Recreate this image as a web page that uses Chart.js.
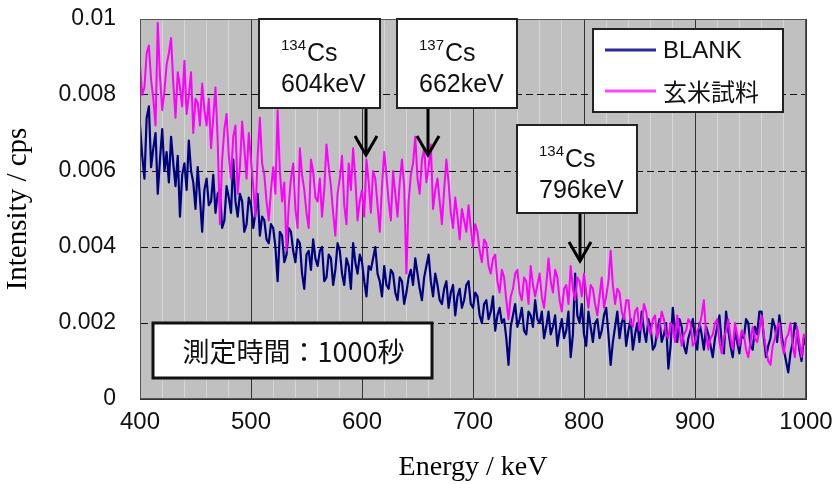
<!DOCTYPE html>
<html>
<head>
<meta charset="utf-8">
<script src="https://cdn.jsdelivr.net/npm/chart.js@4.4.0/dist/chart.umd.min.js"></script>
<style>
  html, body { margin: 0; padding: 0; background: #fff; }
  #wrap { width: 836px; height: 484px; }
</style>
</head>
<body>
<div id="wrap"><canvas id="chart" width="836" height="484"></canvas></div>
<script>
// Energy channels (keV), 2 keV per channel
const energies = [
  400,402,404,406,408,410,412,414,416,418,420,422,424,426,428,430,432,434,436,438,440,442,444,446,448,450,452,454,456,458,
  460,462,464,466,468,470,472,474,476,478,480,482,484,486,488,490,492,494,496,498,500,502,504,506,508,510,512,514,516,518,
  520,522,524,526,528,530,532,534,536,538,540,542,544,546,548,550,552,554,556,558,560,562,564,566,568,570,572,574,576,578,
  580,582,584,586,588,590,592,594,596,598,600,602,604,606,608,610,612,614,616,618,620,622,624,626,628,630,632,634,636,638,
  640,642,644,646,648,650,652,654,656,658,660,662,664,666,668,670,672,674,676,678,680,682,684,686,688,690,692,694,696,698,
  700,702,704,706,708,710,712,714,716,718,720,722,724,726,728,730,732,734,736,738,740,742,744,746,748,750,752,754,756,758,
  760,762,764,766,768,770,772,774,776,778,780,782,784,786,788,790,792,794,796,798,800,802,804,806,808,810,812,814,816,818,
  820,822,824,826,828,830,832,834,836,838,840,842,844,846,848,850,852,854,856,858,860,862,864,866,868,870,872,874,876,878,
  880,882,884,886,888,890,892,894,896,898,900,902,904,906,908,910,912,914,916,918,920,922,924,926,928,930,932,934,936,938,
  940,942,944,946,948,950,952,954,956,958,960,962,964,966,968,970,972,974,976,978,980,982,984,986,988,990,992,994,996,998,
  1000
];

// BLANK (cps)
const blank = [
  0.0072,0.0064,0.0058,0.0074,0.0077,0.0061,0.0066,0.0070,0.0054,0.0063,0.0071,0.0060,0.0065,0.0057,0.0069,0.0062,0.0056,0.0064,0.0048,0.0059,0.0062,0.0055,0.0068,0.0060,0.0057,0.0050,0.0061,0.0053,0.0044,0.0055,
  0.0058,0.0051,0.0052,0.0059,0.0049,0.0054,0.0055,0.0045,0.0047,0.0056,0.0053,0.0049,0.0063,0.0052,0.0048,0.0054,0.0052,0.0044,0.0046,0.0053,0.0051,0.0045,0.0049,0.0054,0.0043,0.0048,0.0047,0.0042,0.0041,0.0046,
  0.0045,0.0040,0.0031,0.0044,0.0043,0.0036,0.0038,0.0045,0.0044,0.0039,0.0036,0.0042,0.0041,0.0033,0.0029,0.0038,0.0039,0.0034,0.0042,0.0037,0.0035,0.0039,0.0040,0.0031,0.0032,0.0038,0.0037,0.0030,0.0034,0.0041,
  0.0039,0.0033,0.0030,0.0037,0.0035,0.0029,0.0041,0.0036,0.0033,0.0038,0.0036,0.0031,0.0027,0.0035,0.0034,0.0037,0.0040,0.0033,0.0031,0.0027,0.0035,0.0030,0.0029,0.0034,0.0033,0.0028,0.0026,0.0032,0.0031,0.0025,
  0.0028,0.0032,0.0034,0.0030,0.0037,0.0033,0.0029,0.0026,0.0032,0.0035,0.0038,0.0031,0.0027,0.0033,0.0030,0.0026,0.0025,0.0029,0.0031,0.0024,0.0028,0.0030,0.0022,0.0027,0.0029,0.0024,0.0026,0.0030,0.0031,0.0025,
  0.0024,0.0028,0.0027,0.0022,0.0020,0.0025,0.0026,0.0021,0.0023,0.0027,0.0018,0.0022,0.0024,0.0020,0.0021,0.0016,0.0009,0.0019,0.0022,0.0025,0.0019,0.0021,0.0024,0.0018,0.0017,0.0023,0.0022,0.0019,0.0026,0.0021,
  0.0020,0.0023,0.0016,0.0019,0.0023,0.0017,0.0019,0.0022,0.0014,0.0018,0.0021,0.0016,0.0018,0.0023,0.0011,0.0017,0.0033,0.0022,0.0020,0.0025,0.0017,0.0014,0.0023,0.0019,0.0015,0.0020,0.0021,0.0016,0.0018,0.0022,
  0.0024,0.0017,0.0009,0.0015,0.0019,0.0023,0.0016,0.0020,0.0022,0.0014,0.0018,0.0021,0.0013,0.0017,0.0020,0.0015,0.0023,0.0018,0.0015,0.0021,0.0019,0.0013,0.0014,0.0018,0.0021,0.0015,0.0017,0.0020,0.0008,0.0014,
  0.0024,0.0018,0.0015,0.0021,0.0019,0.0014,0.0012,0.0016,0.0018,0.0021,0.0016,0.0013,0.0020,0.0017,0.0013,0.0019,0.0017,0.0014,0.0011,0.0016,0.0019,0.0022,0.0015,0.0012,0.0023,0.0018,0.0014,0.0011,0.0018,0.0015,
  0.0012,0.0017,0.0016,0.0021,0.0020,0.0014,0.0013,0.0019,0.0017,0.0023,0.0023,0.0016,0.0011,0.0014,0.0016,0.0021,0.0019,0.0015,0.0022,0.0017,0.0013,0.0010,0.0007,0.0012,0.0015,0.0020,0.0018,0.0013,0.0010,0.0016,
  0.0014
];

// 玄米試料 (cps)
const sample = [
  0.0088,0.0080,0.0082,0.0091,0.0093,0.0084,0.0079,0.0072,0.0099,0.0085,0.0076,0.0081,0.0088,0.0091,0.0095,0.0083,0.0074,0.0086,0.0082,0.0077,0.0089,0.0075,0.0080,0.0086,0.0070,0.0079,0.0078,0.0072,0.0083,0.0076,
  0.0072,0.0079,0.0066,0.0074,0.0082,0.0068,0.0046,0.0063,0.0071,0.0075,0.0064,0.0058,0.0069,0.0072,0.0054,0.0061,0.0073,0.0066,0.0058,0.0070,0.0063,0.0056,0.0048,0.0064,0.0074,0.0062,0.0059,0.0052,0.0047,0.0055,
  0.0061,0.0054,0.0076,0.0060,0.0052,0.0057,0.0039,0.0051,0.0058,0.0062,0.0050,0.0045,0.0066,0.0059,0.0055,0.0049,0.0045,0.0063,0.0060,0.0053,0.0052,0.0058,0.0048,0.0055,0.0067,0.0061,0.0056,0.0049,0.0043,0.0054,
  0.0058,0.0064,0.0051,0.0046,0.0062,0.0055,0.0066,0.0058,0.0047,0.0052,0.0055,0.0048,0.0063,0.0057,0.0049,0.0060,0.0058,0.0051,0.0044,0.0056,0.0065,0.0059,0.0052,0.0047,0.0060,0.0054,0.0048,0.0057,0.0063,0.0056,
  0.0033,0.0052,0.0059,0.0062,0.0069,0.0058,0.0054,0.0063,0.0066,0.0057,0.0061,0.0067,0.0050,0.0055,0.0058,0.0052,0.0046,0.0055,0.0063,0.0057,0.0049,0.0045,0.0053,0.0048,0.0042,0.0050,0.0047,0.0044,0.0051,0.0045,
  0.0040,0.0046,0.0044,0.0039,0.0036,0.0042,0.0041,0.0035,0.0033,0.0037,0.0038,0.0031,0.0028,0.0034,0.0032,0.0026,0.0021,0.0027,0.0029,0.0033,0.0034,0.0028,0.0026,0.0032,0.0031,0.0025,0.0035,0.0030,0.0027,0.0030,
  0.0033,0.0027,0.0024,0.0030,0.0037,0.0031,0.0028,0.0034,0.0032,0.0026,0.0023,0.0029,0.0030,0.0025,0.0035,0.0029,0.0026,0.0032,0.0031,0.0027,0.0033,0.0028,0.0024,0.0030,0.0029,0.0025,0.0022,0.0027,0.0032,0.0024,
  0.0027,0.0031,0.0039,0.0030,0.0025,0.0029,0.0028,0.0023,0.0021,0.0026,0.0026,0.0020,0.0019,0.0023,0.0024,0.0018,0.0020,0.0025,0.0023,0.0019,0.0017,0.0021,0.0022,0.0016,0.0019,0.0023,0.0021,0.0017,0.0016,0.0020,
  0.0019,0.0015,0.0022,0.0018,0.0014,0.0017,0.0018,0.0021,0.0020,0.0014,0.0015,0.0018,0.0019,0.0022,0.0026,0.0017,0.0013,0.0016,0.0017,0.0020,0.0021,0.0015,0.0012,0.0016,0.0018,0.0021,0.0016,0.0013,0.0020,0.0017,
  0.0014,0.0018,0.0017,0.0013,0.0011,0.0015,0.0019,0.0016,0.0015,0.0018,0.0022,0.0017,0.0013,0.0010,0.0009,0.0014,0.0016,0.0019,0.0020,0.0015,0.0012,0.0016,0.0017,0.0020,0.0014,0.0011,0.0019,0.0015,0.0011,0.0017,
  0.0016
];

const seriesNames = ["BLANK", "玄米試料"];
const xTicks = [400, 500, 600, 700, 800, 900, 1000];
const yTicks = [0, 0.002, 0.004, 0.006, 0.008, 0.01];

// peak markers
const peakEnergies = [604, 662, 796];
const peakMass = ["134", "137", "134"];
const measureText = "測定時間：1000秒";

// pixel layout of the callout boxes (not data)
const calloutBoxes = [
  { x: 259, y: 19, w: 121, h: 89, tip: 155 },
  { x: 397, y: 19, w: 120, h: 89, tip: 155 },
  { x: 517, y: 125, w: 120, h: 88, tip: 261 }
];

const sansFont = '"Liberation Sans", Arial, sans-serif';
const serifFont = '"Liberation Serif", "Times New Roman", serif';
const cjkFont = '"Noto Sans CJK JP", sans-serif';

const decorations = {
  id: "decorations",
  beforeDraw(chart) {
    const { ctx, chartArea: a } = chart;
    ctx.save();
    ctx.fillStyle = "#ffffff";
    ctx.fillRect(0, 0, chart.width, chart.height);
    ctx.fillStyle = "#c0c0c0";
    ctx.fillRect(a.left, a.top, a.right - a.left, a.bottom - a.top);
    ctx.restore();
  },
  afterDraw(chart) {
    const { ctx, chartArea: a } = chart;
    const xs = chart.scales.x;
    ctx.save();

    // plot frame
    ctx.strokeStyle = "#555";
    ctx.lineWidth = 1;
    ctx.strokeRect(a.left + 0.5, a.top + 0.5, a.right - a.left - 1, a.bottom - a.top - 1);

    // callouts with arrows
    peakEnergies.forEach((e, i) => {
      const b = calloutBoxes[i];
      const px = Math.round(xs.getPixelForValue(e)) - (i === 1 ? 3 : 0);
      ctx.strokeStyle = "#000";
      ctx.lineWidth = 3;
      ctx.beginPath();
      ctx.moveTo(px, b.y + b.h);
      ctx.lineTo(px, b.tip);
      ctx.stroke();
      ctx.beginPath();
      ctx.moveTo(px - 11, b.tip - 19);
      ctx.lineTo(px, b.tip);
      ctx.lineTo(px + 11, b.tip - 19);
      ctx.stroke();

      ctx.fillStyle = "#fff";
      ctx.fillRect(b.x, b.y, b.w, b.h);
      ctx.lineWidth = 2;
      ctx.strokeStyle = "#222";
      ctx.strokeRect(b.x, b.y, b.w, b.h);

      ctx.fillStyle = "#111";
      ctx.textBaseline = "alphabetic";
      ctx.textAlign = "left";
      const tx = b.x + 22;
      ctx.font = "15px " + sansFont;
      ctx.fillText(peakMass[i], tx, b.y + 31);
      const mw = ctx.measureText(peakMass[i]).width;
      ctx.font = "25px " + sansFont;
      ctx.fillText("Cs", tx + mw + 1, b.y + 42);
      ctx.fillText(e + "keV", tx, b.y + 73);
    });

    // legend
    const lx = 593, ly = 29, lw = 190, lh = 83;
    ctx.fillStyle = "#fff";
    ctx.fillRect(lx, ly, lw, lh);
    ctx.strokeStyle = "#222";
    ctx.lineWidth = 2;
    ctx.strokeRect(lx, ly, lw, lh);
    const colors = ["#2b2b9a", "#ff44ff"];
    const rows = [50, 91];
    seriesNames.forEach((name, i) => {
      ctx.strokeStyle = colors[i];
      ctx.lineWidth = 3;
      ctx.beginPath();
      ctx.moveTo(605, rows[i]);
      ctx.lineTo(656, rows[i]);
      ctx.stroke();
      ctx.fillStyle = "#111";
      ctx.textAlign = "left";
      ctx.textBaseline = "middle";
      ctx.font = (i === 0 ? "24px " + sansFont : "24px " + cjkFont);
      ctx.fillText(name, 663, rows[i] + 1);
    });

    // measurement time box
    const mx = 153, my = 323, mw2 = 279, mh = 55;
    ctx.fillStyle = "#fff";
    ctx.fillRect(mx, my, mw2, mh);
    ctx.strokeStyle = "#111";
    ctx.lineWidth = 3;
    ctx.strokeRect(mx, my, mw2, mh);
    ctx.fillStyle = "#111";
    ctx.textAlign = "center";
    ctx.textBaseline = "middle";
    ctx.font = "27px " + cjkFont;
    ctx.fillText(measureText, mx + mw2 / 2 + 1, my + mh / 2 + 1);

    ctx.restore();
  }
};

const ctx = document.getElementById("chart").getContext("2d");
new Chart(ctx, {
  type: "line",
  data: {
    datasets: [
      {
        label: seriesNames[1],
        data: sample.map((v, i) => ({ x: energies[i], y: v })),
        borderColor: "#ff00ff",
        borderWidth: 2,
        pointRadius: 0,
        tension: 0,
        borderJoinStyle: "round"
      },
      {
        label: seriesNames[0],
        data: blank.map((v, i) => ({ x: energies[i], y: v })),
        borderColor: "#000080",
        borderWidth: 2.2,
        pointRadius: 0,
        tension: 0,
        borderJoinStyle: "round"
      }
    ]
  },
  options: {
    responsive: false,
    animation: false,
    devicePixelRatio: 1,
    layout: { padding: { top: 19, right: 30, left: 0, bottom: 0 } },
    plugins: {
      legend: { display: false },
      tooltip: { enabled: false }
    },
    scales: {
      x: {
        type: "linear",
        min: 400,
        max: 1000,
        ticks: {
          stepSize: 20,
          autoSkip: false,
          maxRotation: 0,
          padding: 9,
          color: "#111",
          font: { family: sansFont, size: 24 },
          callback: v => (xTicks.includes(v) ? String(v) : "")
        },
        grid: {
          drawTicks: false,
          lineWidth: 1,
          color: c => (c.tick && c.tick.value % 100 === 0 ? "#333" : "#d6d6d6")
        },
        border: { display: true, color: "#333", width: 1 },
        title: {
          display: true,
          text: "Energy / keV",
          color: "#000",
          font: { family: serifFont, size: 28 },
          padding: { top: 0, bottom: 0 }
        },
        afterFit: s => {
          s.height = 85;
          s.paddingLeft = 0;
          s.paddingRight = 0;
        }
      },
      y: {
        min: 0,
        max: 0.01,
        afterBuildTicks: s => { s.ticks = yTicks.map(v => ({ value: v })); },
        ticks: {
          padding: 24,
          color: "#111",
          font: { family: sansFont, size: 23 },
          callback: v => String(Number(v.toFixed(3)))
        },
        grid: {
          drawTicks: false,
          lineWidth: 1,
          color: c => (c.tick && c.tick.value > 0 && c.tick.value < 0.0099 ? "#111" : "rgba(0,0,0,0)")
        },
        border: { display: true, color: "#333", width: 1, dash: [7, 4] },
        title: {
          display: true,
          text: "Intensity / cps",
          color: "#000",
          font: { family: serifFont, size: 29 },
          padding: { top: 1, bottom: 0 }
        },
        afterFit: s => {
          s.width = 140;
          s.paddingTop = 0;
          s.paddingBottom = 0;
        }
      }
    }
  },
  plugins: [decorations]
});
</script>
</body>
</html>
